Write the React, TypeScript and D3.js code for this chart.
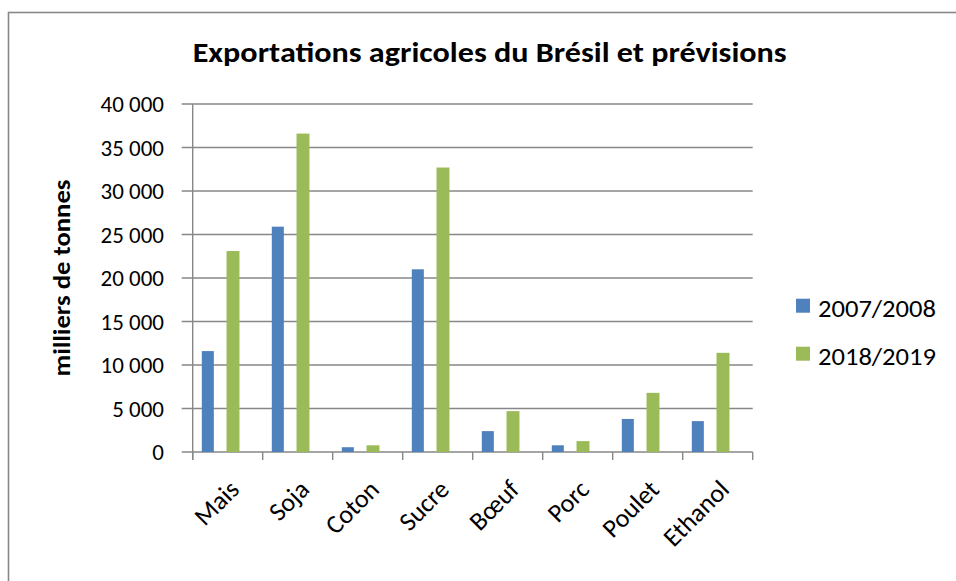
import React from "react";
import * as d3 from "d3";

const categories = ["Mais", "Soja", "Coton", "Sucre", "Bœuf", "Porc", "Poulet", "Ethanol"];
const seriesNames = ["2007/2008", "2018/2019"];
const values2007 = [11600, 25900, 550, 21000, 2400, 770, 3800, 3550];
const values2018 = [23100, 36600, 770, 32700, 4700, 1250, 6800, 11400];
const yTicks = [0, 5000, 10000, 15000, 20000, 25000, 30000, 35000, 40000];
const colors = ["#4F81BD", "#9BBB59"];

const title = "Exportations agricoles du Brésil et prévisions";
const yTitle = "milliers de tonnes";

const W = 956;
const H = 581;
const plotLeft = 192.7;
const plotRight = 752.7;
const plotTop = 104;
const plotBottom = 452;
const FONT = "Carlito, Lato, 'Open Sans', sans-serif";
const GRID = "#878787";

const fmt = (v: number) => {
  if (v === 0) return "0";
  const s = String(v);
  return s.slice(0, s.length - 3) + " " + s.slice(s.length - 3);
};

export default function App() {
  const x = d3.scaleBand<string>().domain(categories).range([plotLeft, plotRight]).padding(0);
  const y = d3.scaleLinear().domain([0, 40000]).range([plotBottom, plotTop]);
  const bw = x.bandwidth();
  const series = [values2007, values2018];
  const offsets = [0.13, 0.483];
  const widths = [0.172, 0.185];

  return (
    <svg
      width={W}
      height={H}
      style={{ position: "absolute", left: 0, top: 0, background: "#fff" }}
      fontFamily={FONT}
    >
      <rect x={0} y={0} width={W} height={H} fill="#fff" />
      <rect x={8.5} y={12.5} width={W + 20} height={H + 20} fill="none" stroke="#888" strokeWidth={1.6} />

      <text
        x={(192.7 + 786.7) / 2}
        y={61.7}
        textAnchor="middle"
        fontWeight="bold"
        fontSize={27.5}
        textLength={594}
        lengthAdjust="spacingAndGlyphs"
        fill="#000"
      >
        {title}
      </text>

      {/* gridlines */}
      {yTicks.map((t) => (
        <line
          key={"g" + t}
          x1={plotLeft - 11}
          x2={plotRight}
          y1={y(t)}
          y2={y(t)}
          stroke={GRID}
          strokeWidth={1.4}
        />
      ))}
      {/* y axis */}
      <line x1={plotLeft} x2={plotLeft} y1={plotTop} y2={plotBottom + 8} stroke={GRID} strokeWidth={1.4} />
      {/* x ticks */}
      {d3.range(categories.length + 1).map((i) => {
        const xx = i < categories.length ? (x(categories[i]) as number) : plotRight;
        return (
          <line key={"xt" + i} x1={xx} x2={xx} y1={plotBottom} y2={plotBottom + 8} stroke={GRID} strokeWidth={1.4} />
        );
      })}

      {/* y tick labels */}
      {yTicks.map((t) => (
        <text
          key={"yl" + t}
          x={164}
          y={y(t)}
          dy="0.36em"
          textAnchor="end"
          fontSize={23}
          fill="#000"
        >
          {fmt(t)}
        </text>
      ))}

      {/* bars */}
      {series.map((vals, si) =>
        vals.map((v, ci) => {
          const x0 = x(categories[ci]) as number;
          return (
            <rect
              key={`b${si}-${ci}`}
              x={x0 + bw * offsets[si]}
              y={y(v)}
              width={bw * widths[si]}
              height={plotBottom - y(v)}
              fill={colors[si]}
            />
          );
        })
      )}

      {/* x labels */}
      {categories.map((c) => {
        const cx = (x(c) as number) + bw / 2 + 13;
        const cy = plotBottom + 39;
        return (
          <text
            key={"xl" + c}
            x={cx}
            y={cy}
            textAnchor="end"
            fontSize={26}
            fill="#000"
            transform={`rotate(-45 ${cx} ${cy})`}
          >
            {c}
          </text>
        );
      })}

      {/* y axis title */}
      <text
        x={0}
        y={0}
        transform={`translate(70 ${(plotTop + plotBottom) / 2}) rotate(-90)`}
        textAnchor="middle"
        fontWeight="bold"
        fontSize={24}
        textLength={197}
        lengthAdjust="spacingAndGlyphs"
        fill="#000"
      >
        {yTitle}
      </text>

      {/* legend */}
      {seriesNames.map((s, i) => (
        <g key={"lg" + s} transform={`translate(796 ${298.7 + i * 48})`}>
          <rect x={0} y={0} width={14} height={14} fill={colors[i]} />
          <text x={22} y={18} fontSize={24} textLength={118} lengthAdjust="spacingAndGlyphs" fill="#000">
            {s}
          </text>
        </g>
      ))}
    </svg>
  );
}
